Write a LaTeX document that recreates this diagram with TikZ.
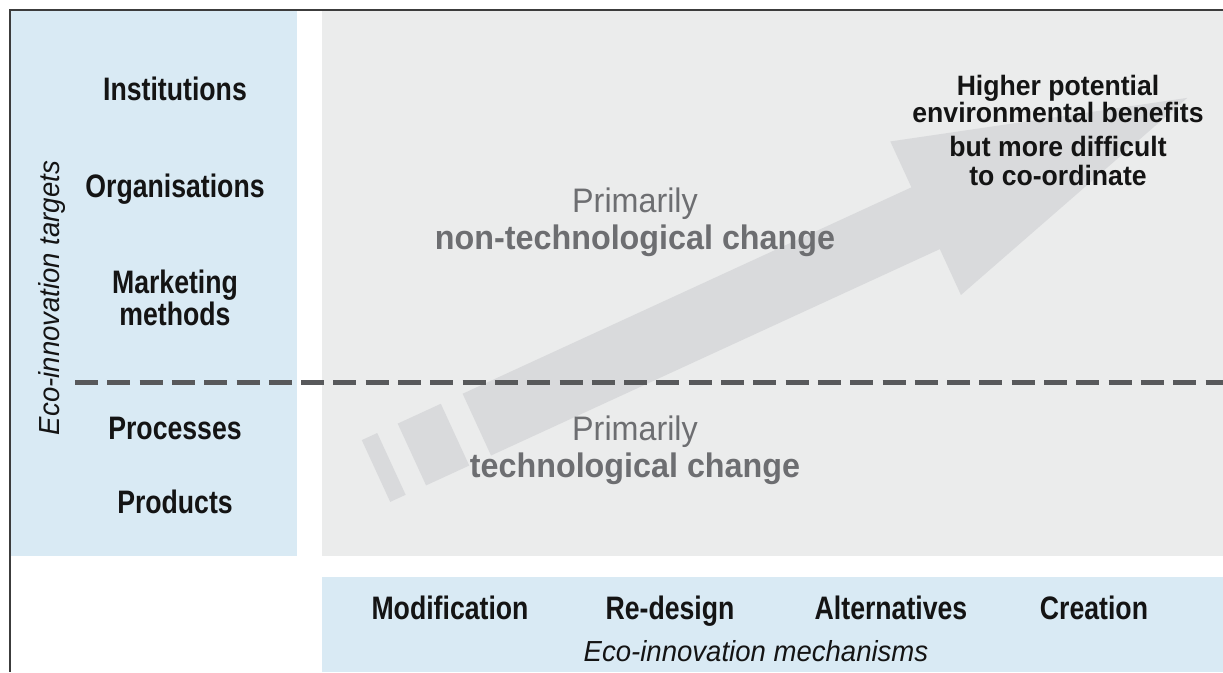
\documentclass[tikz,border=0pt]{standalone}
\usepackage{fontspec}
\setmainfont{Liberation Sans}
\newfontfamily\fA[FakeStretch=0.82]{Liberation Sans}
\newfontfamily\fB[FakeStretch=0.95]{Liberation Sans}
\newcommand\mytightlines{\lineskiplimit=-100pt\relax\lineskip=0pt\relax}
\definecolor{panelblue}{RGB}{217,234,244}
\definecolor{panelgray}{RGB}{235,236,236}
\definecolor{arrowgray}{RGB}{217,218,220}
\definecolor{dashgray}{RGB}{88,89,91}
\definecolor{textgray}{RGB}{109,110,113}
\definecolor{framegray}{RGB}{60,60,60}
\definecolor{labelblack}{RGB}{20,20,20}
\tikzset{
  lab/.style={font=\fA\bfseries\fontsize{32.5}{32}\selectfont\mytightlines, text=labelblack, inner sep=0pt, align=center},
  axislab/.style={font=\fB\itshape\fontsize{29}{30}\selectfont, text=labelblack, inner sep=0pt},
  graylab/.style={font=\fB\fontsize{34}{37}\selectfont\mytightlines, text=textgray, inner sep=0pt, align=center},
  notelab/.style={font=\fB\bfseries\fontsize{28}{27}\selectfont\mytightlines, text=labelblack, inner sep=0pt, align=center},
  bigarrow/.style={fill=arrowgray},
}
\begin{document}
\begin{tikzpicture}[x=1pt,y=-1pt]
\useasboundingbox (0,0) rectangle (1223,672);
\fill[white] (0,0) rectangle (1223,672);
% panels
\fill[panelblue] (10,10) rectangle (297,556);
\fill[panelgray] (322,10) rectangle (1223,556);
\fill[panelblue] (322,577) rectangle (1223,672);
% frame
\draw[framegray, line width=2pt] (1223,10) -- (10,10) -- (10,672);
% big arrow
\begin{scope}[shift={(376,471)}, rotate=24.7]
  \fill[bigarrow] (0,-34) rectangle (17,34);
  \fill[bigarrow] (39.5,-34) rectangle (87,34);
  \fill[bigarrow] (111,-34) -- (605,-34) -- (605,-84.5) -- (893,0) -- (605,84.5) -- (605,34) -- (111,34) -- cycle;
\end{scope}
% dashed divider
\coordinate (dashL) at (75,382);
\coordinate (dashR) at (1223,382);
\draw[dashgray, line width=5pt, dash pattern=on 23pt off 9.3pt] (dashL) -- (dashR);
% targets
\node[lab, anchor=base] (lInst) at (175,100) {Institutions};
\node[lab, anchor=base] (lOrg) at (175,197) {Organisations};
\node[lab, anchor=base] (lMkt) at (175,325) {Marketing\\methods};
\node[lab, anchor=base] (lProc) at (175,439) {Processes};
\node[lab, anchor=base] (lProd) at (175,513) {Products};
\node[axislab, anchor=base, rotate=90] (axisT) at (59,298) {Eco-innovation targets};
% mechanisms
\node[lab, anchor=base] (mMod) at (450,619) {Modification};
\node[lab, anchor=base] (mRed) at (670,619) {Re-design};
\node[lab, anchor=base] (mAlt) at (891,619) {Alternatives};
\node[lab, anchor=base] (mCre) at (1094,619) {Creation};
\node[axislab, anchor=base] (axisM) at (756,661) {Eco-innovation mechanisms};
% change types
\node[graylab, anchor=base] (gNon) at (635,249) {Primarily\\\textbf{non-technological change}};
\node[graylab, anchor=base] (gTech) at (635,477) {Primarily\\\textbf{technological change}};
% note
\node[notelab, anchor=base] (note) at (1058,185) {Higher potential\\environmental benefits\\[7pt]but more difficult\\[2pt]to co-ordinate};
\end{tikzpicture}
\end{document}
